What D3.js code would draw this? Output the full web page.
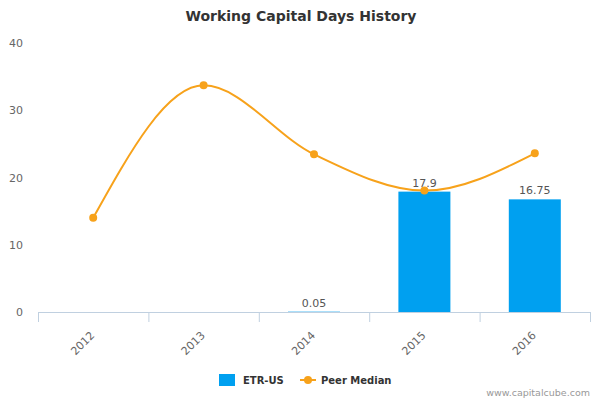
<!DOCTYPE html>
<html>
<head>
<meta charset="utf-8">
<script src="https://cdn.jsdelivr.net/npm/d3@7"></script>
<style>
  body { margin: 0; background: #fff; }
  svg { font-family: "DejaVu Sans", sans-serif; }
</style>
</head>
<body>
<div id="chart"></div>
<script>
var years = ['2012', '2013', '2014', '2015', '2016'];
var barYears = ['2014', '2015', '2016'];
var barValues = [0.05, 17.9, 16.75];
var barLabels = ['0.05', '17.9', '16.75'];
var peerMedian = [14.0, 33.7, 23.45, 18.05, 23.6];
var yTicks = [0, 10, 20, 30, 40];

var width = 600,
  height = 400,
  plotLeft = 38,
  plotRight = 590,
  plotTop = 43,
  plotBottom = 312;

var svg = d3.select('#chart')
  .append('svg')
  .attr('width', width)
  .attr('height', height);

svg.append('text')
  .attr('x', 301)
  .attr('y', 21)
  .attr('text-anchor', 'middle')
  .style('font-size', '14px')
  .style('font-weight', 'bold')
  .style('fill', '#333')
  .text('Working Capital Days History');

var x = d3.scaleBand().domain(years).range([plotLeft, plotRight]);
var y = d3.scaleLinear().domain([0, 40]).range([plotBottom, plotTop]);

// y labels
svg.selectAll('.ylab')
  .data(yTicks)
  .enter()
  .append('text')
  .attr('class', 'ylab')
  .attr('x', 23)
  .attr('y', d => y(d) + 4)
  .attr('text-anchor', 'end')
  .style('font-size', '11px')
  .style('fill', '#666')
  .text(d => d);

// bars
svg.selectAll('.bar')
  .data(barValues)
  .enter()
  .append('rect')
  .attr('class', 'bar')
  .attr('x', (d, i) => x(barYears[i]) + x.bandwidth() / 2 - 26)
  .attr('y', d => y(d))
  .attr('width', 52)
  .attr('height', d => plotBottom - y(d))
  .style('fill', '#00a0f0');

svg.selectAll('.blab')
  .data(barValues)
  .enter()
  .append('text')
  .attr('class', 'blab')
  .attr('x', (d, i) => x(barYears[i]) + x.bandwidth() / 2)
  .attr('y', d => y(d) - 5)
  .attr('text-anchor', 'middle')
  .style('font-size', '11px')
  .style('fill', '#555')
  .text((d, i) => barLabels[i]);

// x axis
var xAxis = d3.axisBottom(x).tickSize(0).tickFormat('');
var gx = svg.append('g')
  .attr('transform', 'translate(0,' + plotBottom + ')')
  .call(xAxis);
gx.select('.domain').attr('stroke', '#c0d0e0');

svg.selectAll('.xtick')
  .data(years.concat(['end']))
  .enter()
  .append('line')
  .attr('class', 'xtick')
  .attr('x1', (d, i) => plotLeft + i * x.step() + 0.5)
  .attr('x2', (d, i) => plotLeft + i * x.step() + 0.5)
  .attr('y1', plotBottom)
  .attr('y2', plotBottom + 10)
  .attr('stroke', '#c0d0e0');

svg.selectAll('.xlab')
  .data(years)
  .enter()
  .append('text')
  .attr('class', 'xlab')
  .attr('transform', d => 'translate(' + (x(d) + x.bandwidth() / 2 + 2) + ',' + (plotBottom + 24) + ') rotate(-45)')
  .attr('text-anchor', 'end')
  .style('font-size', '11px')
  .style('fill', '#666')
  .text(d => d);

// peer median line
var line = d3.line()
  .x((d, i) => x(years[i]) + x.bandwidth() / 2)
  .y(d => y(d))
  .curve(d3.curveMonotoneX);

svg.append('path')
  .datum(peerMedian)
  .attr('d', line)
  .attr('fill', 'none')
  .attr('stroke', '#f7a21b')
  .attr('stroke-width', 2);

svg.selectAll('.dot')
  .data(peerMedian)
  .enter()
  .append('circle')
  .attr('class', 'dot')
  .attr('cx', (d, i) => x(years[i]) + x.bandwidth() / 2)
  .attr('cy', d => y(d))
  .attr('r', 4)
  .style('fill', '#f7a21b');

// legend
svg.append('rect')
  .attr('x', 219)
  .attr('y', 374)
  .attr('width', 16)
  .attr('height', 12)
  .style('fill', '#00a0f0');
svg.append('text')
  .attr('x', 243)
  .attr('y', 384)
  .style('font-size', '10px')
  .style('font-weight', 'bold')
  .style('fill', '#333')
  .text('ETR-US');
svg.append('line')
  .attr('x1', 300)
  .attr('x2', 316)
  .attr('y1', 380)
  .attr('y2', 380)
  .attr('stroke', '#f7a21b')
  .attr('stroke-width', 2);
svg.append('circle')
  .attr('cx', 308)
  .attr('cy', 380)
  .attr('r', 4)
  .style('fill', '#f7a21b');
svg.append('text')
  .attr('x', 321)
  .attr('y', 384)
  .style('font-size', '10px')
  .style('font-weight', 'bold')
  .style('fill', '#333')
  .text('Peer Median');

svg.append('text')
  .attr('x', 590)
  .attr('y', 396)
  .attr('text-anchor', 'end')
  .style('font-size', '9.5px')
  .style('fill', '#999')
  .text('www.capitalcube.com');
</script>
</body>
</html>
